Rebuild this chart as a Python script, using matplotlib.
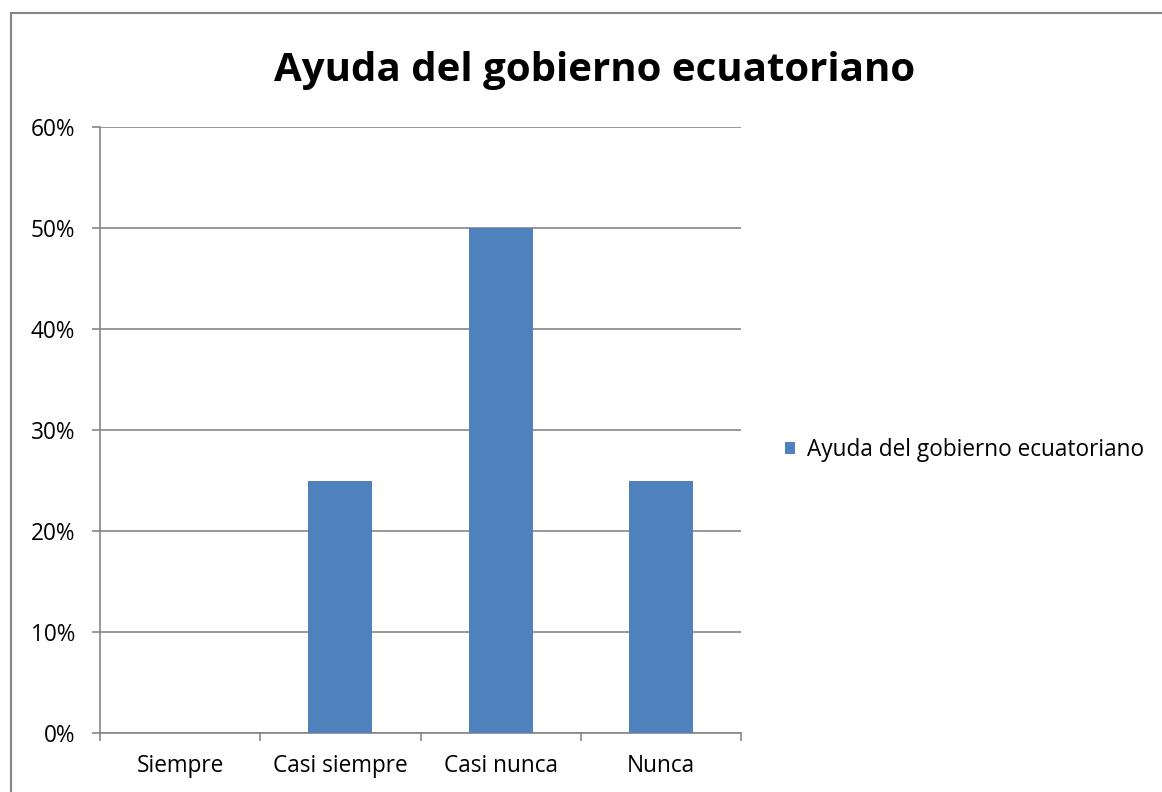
import numpy as np
import matplotlib.pyplot as plt
from matplotlib.lines import Line2D
from matplotlib.patches import Patch

# chart data
categories = ['Siempre', 'Casi siempre', 'Casi nunca', 'Nunca']
values = [0, 25, 50, 25]
series_name = 'Ayuda del gobierno ecuatoriano'
yticks = [0, 10, 20, 30, 40, 50, 60]

bar_color = '#4F81BD'
grid_color = '#868686'

plt.rcParams['font.family'] = ['Open Sans', 'DejaVu Sans']

fig = plt.figure(figsize=(11.62, 7.92), dpi=100)
ax = fig.add_axes([100 / 1162, 1 - 733 / 792, 641 / 1162, 606 / 792])

x = np.arange(len(categories))
ax.bar(x, values, width=0.4, color=bar_color, zorder=3)

ax.set_xlim(-0.5, len(categories) - 0.5)
ax.set_ylim(0, 60)
ax.set_yticks(yticks)
ax.set_yticklabels([f'{v}%' for v in yticks], fontsize=16.3)
ax.set_xticks(x)
ax.set_xticklabels(categories, fontsize=16.3)
ax.tick_params(axis='x', length=0, pad=15)
ax.tick_params(axis='y', length=6, color=grid_color, pad=12, width=1.2)
# category boundary ticks
ax.set_xticks(np.arange(-0.5, len(categories)), minor=True)
ax.tick_params(axis='x', which='minor', length=6, color=grid_color, width=1.2)

ax.yaxis.grid(True, color=grid_color, linewidth=1.2, zorder=0)
for s in ['top', 'right']:
    ax.spines[s].set_visible(False)
for s in ['left', 'bottom']:
    ax.spines[s].set_color(grid_color)
    ax.spines[s].set_linewidth(1.2)

fig.text(595 / 1162, 1 - 70 / 792, series_name, ha='center', va='center',
         fontsize=29, fontweight='bold')

handle = Patch(facecolor=bar_color, label=series_name)
fig.legend(handles=[handle], loc='center left', bbox_to_anchor=(776 / 1162, 1 - 450 / 792),
           frameon=False, fontsize=16.3, handlelength=0.45, handleheight=0.45,
           handletextpad=0.5, borderaxespad=0)

# outer chart border
fig.add_artist(Line2D([11 / 1162, 11 / 1162], [0, 1 - 13 / 792], color=grid_color, lw=1.5))
fig.add_artist(Line2D([11 / 1162, 1], [1 - 13 / 792, 1 - 13 / 792], color=grid_color, lw=1.5))

fig.savefig('out.png', dpi=100)
